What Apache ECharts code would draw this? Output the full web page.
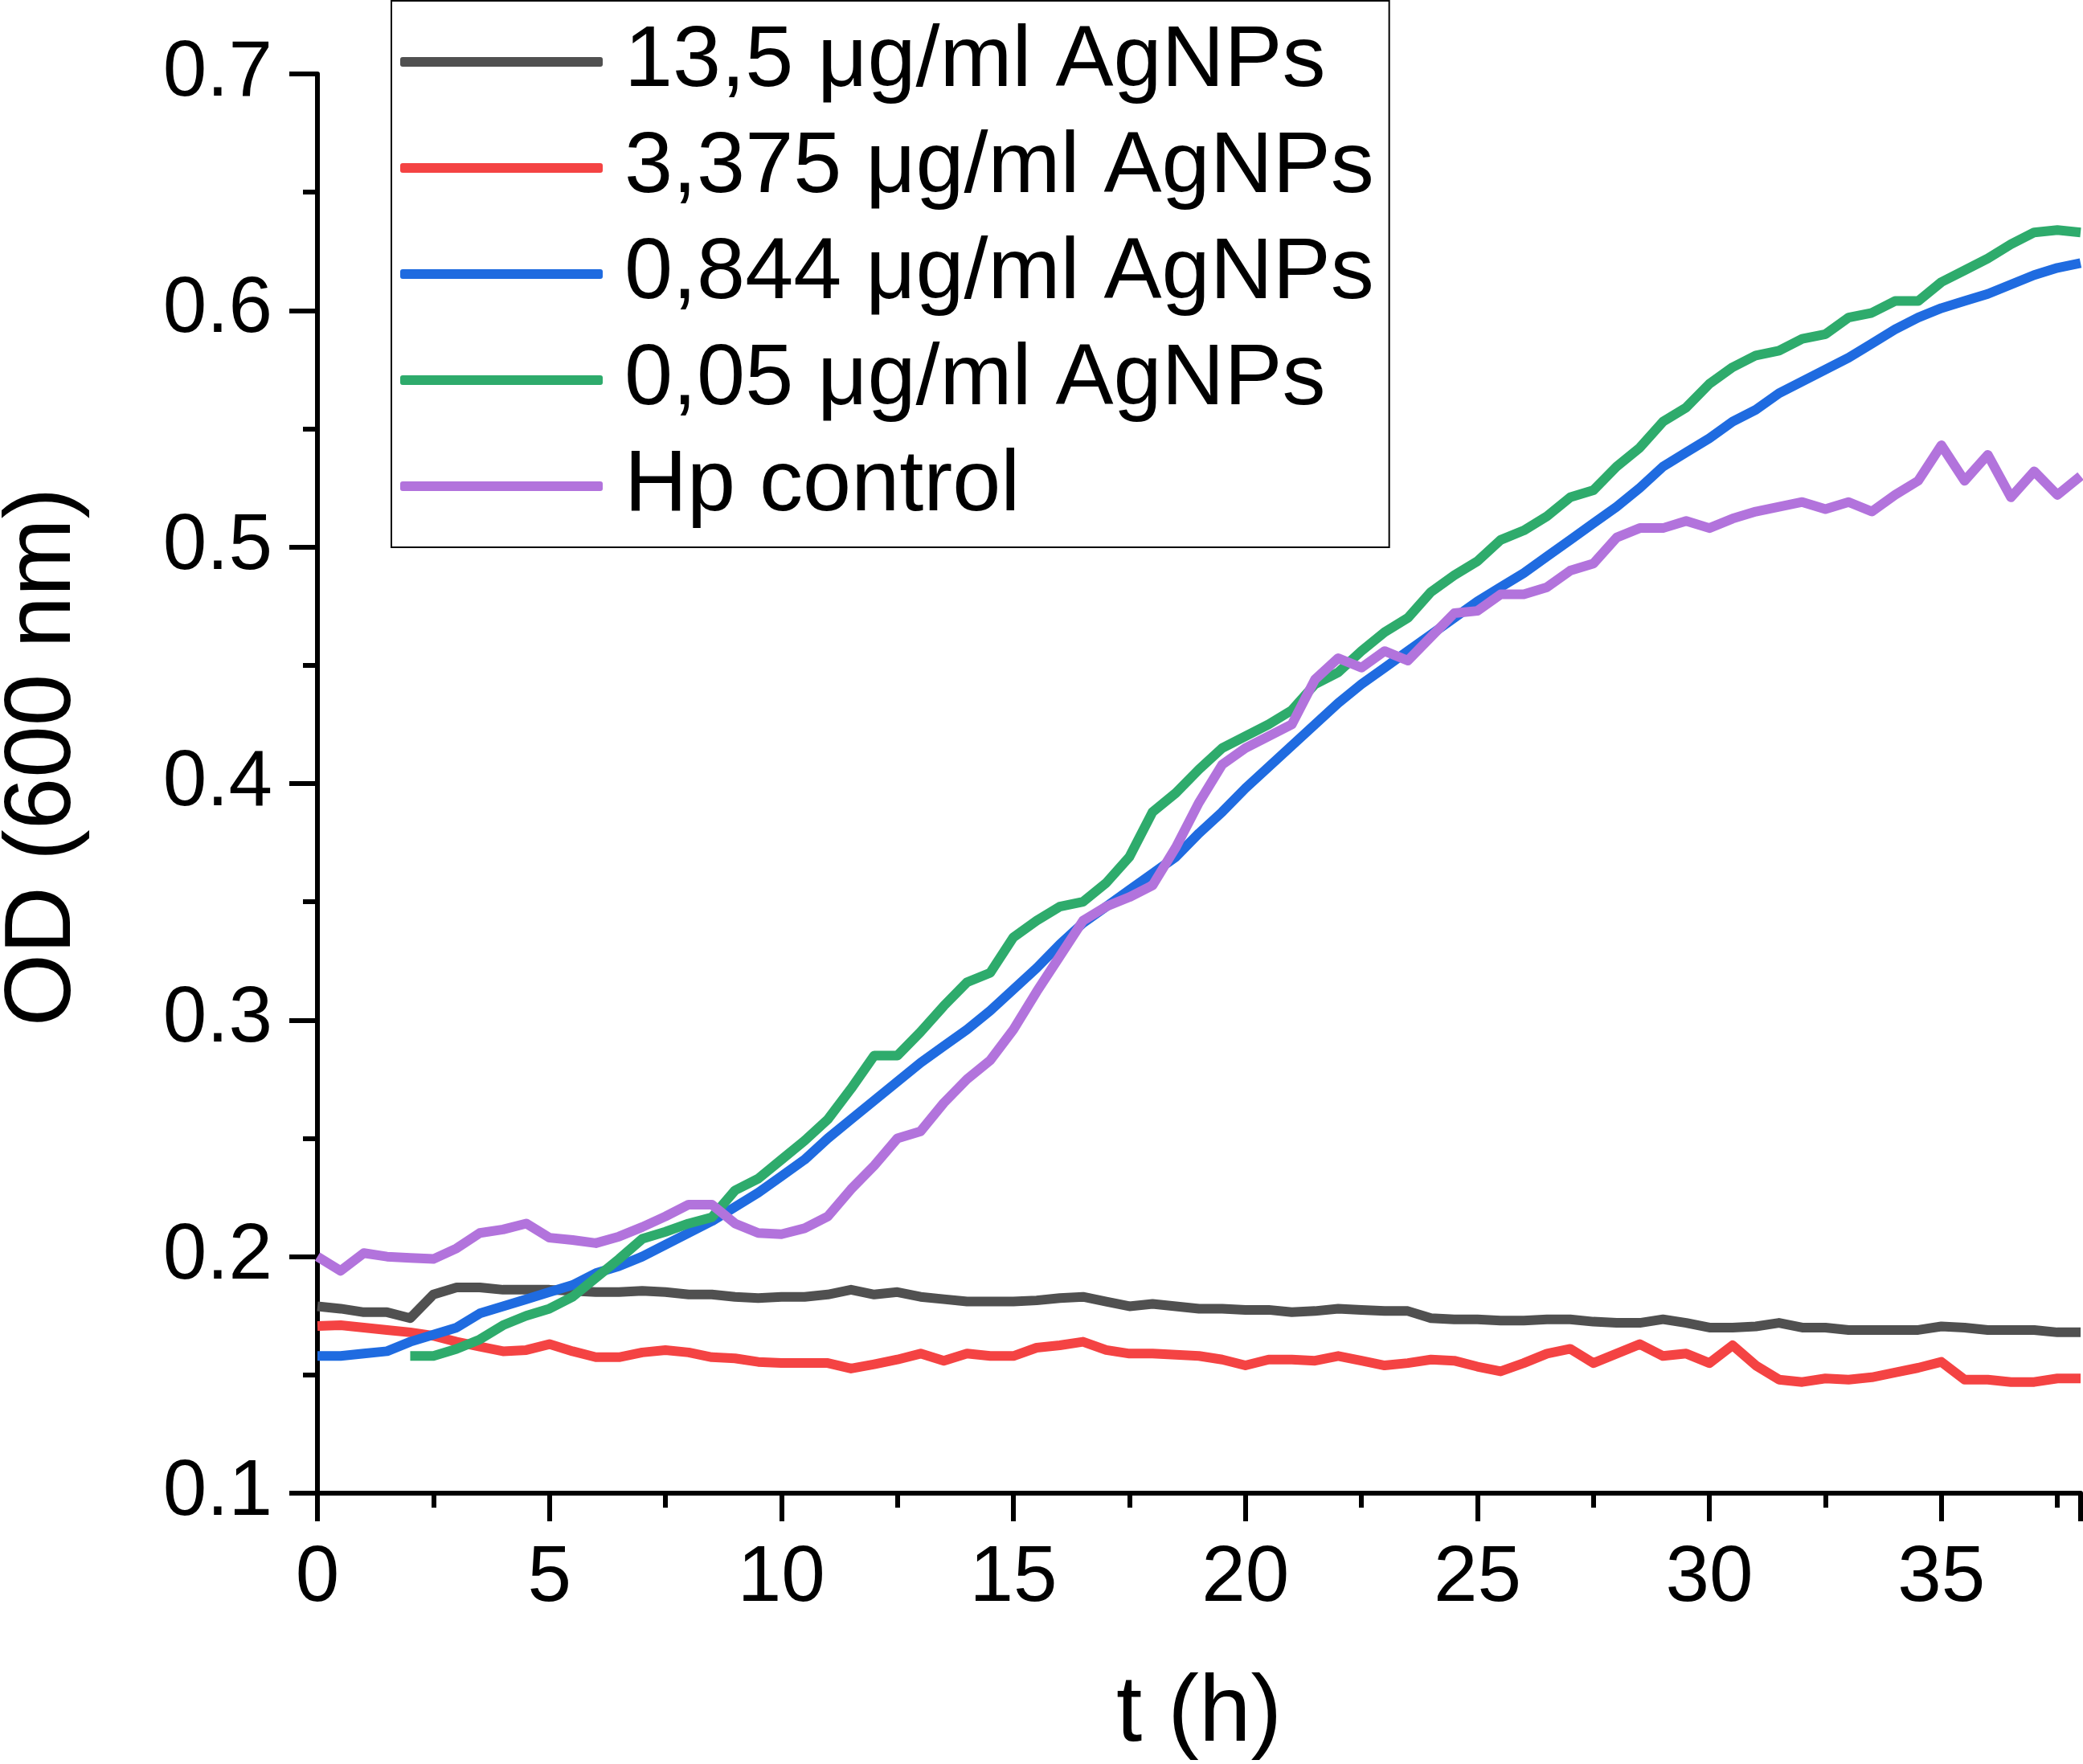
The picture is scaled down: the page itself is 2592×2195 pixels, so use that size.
<!DOCTYPE html>
<html>
<head>
<meta charset="utf-8">
<script src="https://cdn.jsdelivr.net/npm/echarts@6/dist/echarts.min.js"></script>
<style>
  html, body { margin: 0; padding: 0; background: #fff; }
  #od { width: 2592px; height: 2195px; }
</style>
</head>
<body>
<div id="od"></div>
<script>
// time axis (h)
var times = [0, 0.5, 1, 1.5, 2, 2.5, 3, 3.5, 4, 4.5, 5, 5.5, 6, 6.5, 7, 7.5, 8, 8.5, 9, 9.5,
    10, 10.5, 11, 11.5, 12, 12.5, 13, 13.5, 14, 14.5, 15, 15.5, 16, 16.5, 17, 17.5, 18, 18.5, 19, 19.5,
    20, 20.5, 21, 21.5, 22, 22.5, 23, 23.5, 24, 24.5, 25, 25.5, 26, 26.5, 27, 27.5, 28, 28.5, 29, 29.5,
    30, 30.5, 31, 31.5, 32, 32.5, 33, 33.5, 34, 34.5, 35, 35.5, 36, 36.5, 37, 37.5, 38];

// OD 600 nm readings
var ag135 = [0.179, 0.178, 0.1765, 0.1765, 0.174, 0.184, 0.187, 0.187, 0.186, 0.186,
    0.186, 0.1855, 0.185, 0.185, 0.1855, 0.185, 0.184, 0.184, 0.183, 0.1825,
    0.183, 0.183, 0.184, 0.186, 0.184, 0.185, 0.183, 0.182, 0.181, 0.181,
    0.181, 0.1815, 0.1825, 0.183, 0.181, 0.179, 0.180, 0.179, 0.178, 0.178,
    0.1775, 0.1775, 0.1765, 0.177, 0.178, 0.1775, 0.177, 0.177, 0.174, 0.1735,
    0.1735, 0.173, 0.173, 0.1735, 0.1735, 0.1725, 0.172, 0.172, 0.1735, 0.172,
    0.170, 0.170, 0.1705, 0.172, 0.170, 0.170, 0.169, 0.169, 0.169, 0.169,
    0.1705, 0.170, 0.169, 0.169, 0.169, 0.168, 0.168];

var ag3375 = [0.1707, 0.171, 0.170, 0.169, 0.168, 0.1665, 0.164, 0.162, 0.160, 0.1605,
    0.163, 0.160, 0.1575, 0.1575, 0.1595, 0.1605, 0.1595, 0.1575, 0.157, 0.1555,
    0.155, 0.155, 0.155, 0.1527, 0.1545, 0.1565, 0.159, 0.156, 0.159, 0.158,
    0.158, 0.1615, 0.1625, 0.164, 0.1605, 0.159, 0.159, 0.1585, 0.158, 0.1565,
    0.154, 0.1565, 0.1565, 0.156, 0.158, 0.156, 0.154, 0.155, 0.1565, 0.156,
    0.1535, 0.1515, 0.155, 0.159, 0.161, 0.155, 0.159, 0.163, 0.158, 0.159,
    0.155, 0.1625, 0.154, 0.148, 0.147, 0.1485, 0.148, 0.149, 0.151, 0.153,
    0.1555, 0.148, 0.148, 0.147, 0.147, 0.1485, 0.1485];

var ag0844 = [0.158, 0.158, 0.159, 0.160, 0.164, 0.167, 0.170, 0.176, 0.179, 0.182,
    0.185, 0.188, 0.193, 0.196, 0.200, 0.205, 0.210, 0.215, 0.221, 0.227,
    0.234, 0.241, 0.250, 0.258, 0.266, 0.274, 0.282, 0.289, 0.296, 0.304,
    0.313, 0.322, 0.332, 0.341, 0.348, 0.355, 0.362, 0.369, 0.379, 0.388,
    0.398, 0.407, 0.416, 0.425, 0.434, 0.442, 0.449, 0.456, 0.463, 0.470,
    0.477, 0.483, 0.489, 0.496, 0.503, 0.510, 0.517, 0.525, 0.534, 0.540,
    0.546, 0.553, 0.558, 0.565, 0.570, 0.575, 0.580, 0.586, 0.592, 0.597,
    0.601, 0.604, 0.607, 0.611, 0.615, 0.618, 0.620];

var ag005 = [null, null, null, null, 0.158, 0.158, 0.161, 0.165, 0.171, 0.175,
    0.178, 0.183, 0.191, 0.199, 0.2075, 0.2105, 0.214, 0.2166, 0.228, 0.233,
    0.241, 0.249, 0.258, 0.271, 0.285, 0.285, 0.295, 0.306, 0.316, 0.320,
    0.335, 0.342, 0.348, 0.350, 0.358, 0.369, 0.388, 0.396, 0.406, 0.415,
    0.420, 0.425, 0.431, 0.442, 0.447, 0.456, 0.464, 0.470, 0.481, 0.488,
    0.494, 0.503, 0.507, 0.513, 0.521, 0.524, 0.534, 0.542, 0.553, 0.559,
    0.569, 0.576, 0.581, 0.583, 0.588, 0.590, 0.597, 0.599, 0.604, 0.604,
    0.612, 0.617, 0.622, 0.628, 0.633, 0.634, 0.633];

var hpControl = [0.200, 0.194, 0.2015, 0.200, 0.1995, 0.199, 0.2035, 0.210, 0.2115, 0.214,
    0.208, 0.207, 0.2057, 0.2085, 0.2125, 0.217, 0.222, 0.222, 0.214, 0.210,
    0.2095, 0.212, 0.217, 0.2285, 0.2385, 0.250, 0.253, 0.265, 0.275, 0.283,
    0.296, 0.312, 0.327, 0.342, 0.348, 0.352, 0.357, 0.373, 0.392, 0.408,
    0.415, 0.420, 0.425, 0.444, 0.453, 0.449, 0.456, 0.452, 0.462, 0.472,
    0.473, 0.480, 0.480, 0.483, 0.490, 0.493, 0.504, 0.508, 0.508, 0.511,
    0.508, 0.512, 0.515, 0.517, 0.519, 0.516, 0.519, 0.515, 0.522, 0.528,
    0.543, 0.528, 0.539, 0.521, 0.532, 0.522, 0.530];

var names = ['13,5 μg/ml AgNPs', '3,375 μg/ml AgNPs', '0,844 μg/ml AgNPs', '0,05 μg/ml AgNPs', 'Hp control'];
var colors = ['#505050', '#f44343', '#1f6be0', '#2eab6c', '#b273dc'];
var yRange = [0.1, 0.7];

var FONT = "'Liberation Sans', Arial, sans-serif";

function pairs(vals) {
    var out = [];
    for (var i = 0; i < times.length; i++) {
        out.push([times[i], vals[i]]);
    }
    return out;
}

var odChart = echarts.init(document.getElementById('od'));

var allData = [ag135, ag3375, ag0844, ag005, hpControl];
var seriesList = [];
for (var s = 0; s < allData.length; s++) {
    seriesList.push({
        name: names[s],
        type: 'line',
        data: pairs(allData[s]),
        symbol: 'none',
        smooth: false,
        lineStyle: { color: colors[s], width: 12, join: 'round' },
        itemStyle: { color: colors[s] }
    });
}

var axisLine = { show: true, lineStyle: { color: '#000', width: 6 } };

odChart.setOption({
    animation: false,
    backgroundColor: '#fff',
    grid: { left: 395, right: 3, top: 92, bottom: 337, containLabel: false, outerBoundsMode: 'none' },
    legend: {
        orient: 'vertical',
        left: 487,
        top: 1,
        icon: 'roundRect',
        itemWidth: 252,
        itemHeight: 12,
        itemGap: 24,
        padding: [22, 19, 22, 11],
        borderColor: '#000',
        borderWidth: 2,
        backgroundColor: '#fff',
        itemStyle: { borderWidth: 0 },
        textStyle: { fontFamily: FONT, fontSize: 108, lineHeight: 108, color: '#000', padding: [0, 0, 0, 22] }
    },
    xAxis: {
        type: 'value',
        min: 0,
        max: 38,
        interval: 5,
        name: 't (h)',
        nameLocation: 'middle',
        nameGap: 218,
        nameTextStyle: { fontFamily: FONT, fontSize: 116, color: '#000' },
        axisLine: axisLine,
        axisTick: { show: true, length: 35, lineStyle: { color: '#000', width: 6 } },
        minorTick: { show: true, splitNumber: 2, length: 18, lineStyle: { color: '#000', width: 6 } },
        axisLabel: { fontFamily: FONT, fontSize: 98, color: '#000', margin: 58, showMaxLabel: false },
        splitLine: { show: false }
    },
    yAxis: {
        type: 'value',
        min: yRange[0],
        max: yRange[1],
        interval: 0.1,
        name: 'OD (600 nm)',
        nameLocation: 'middle',
        nameGap: 282,
        nameTextStyle: { fontFamily: FONT, fontSize: 116, color: '#000', padding: [0, 0, 0, 66] },
        axisLine: axisLine,
        axisTick: { show: true, length: 35, lineStyle: { color: '#000', width: 6 } },
        minorTick: { show: true, splitNumber: 2, length: 18, lineStyle: { color: '#000', width: 6 } },
        axisLabel: {
            fontFamily: FONT, fontSize: 98, color: '#000', margin: 56,
            formatter: function (v) { return v.toFixed(1); }
        },
        splitLine: { show: false }
    },
    series: seriesList
});
</script>
</body>
</html>
